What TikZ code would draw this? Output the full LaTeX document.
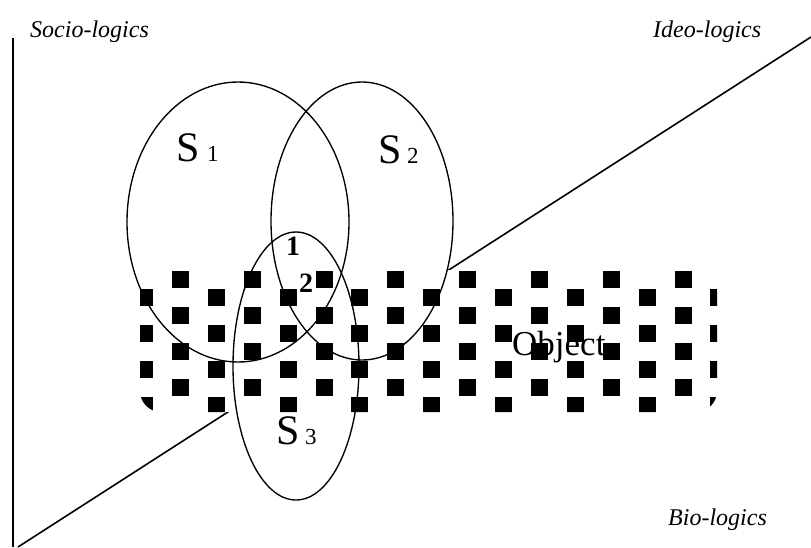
\documentclass[tikz,border=0pt]{standalone}
\usepackage{fontspec}
\setmainfont{Liberation Serif}
\begin{document}
\begin{tikzpicture}[x=1pt,y=-1pt,
  axisline/.style={line width=1.6pt,black},
  ringline/.style={line width=1.35pt,black},
  axislabel/.style={anchor=base west,inner sep=0pt,font=\fontsize{24}{28}\selectfont\itshape},
  setletter/.style={anchor=base west,inner sep=0pt,font=\fontsize{42}{46}\selectfont},
  setindex/.style={anchor=base west,inner sep=0pt,font=\fontsize{23}{26}\selectfont},
  zonenum/.style={anchor=base west,inner sep=0pt,font=\fontsize{28}{32}\selectfont\bfseries},
  objlabel/.style={anchor=base west,inner sep=0pt,font=\fontsize{35}{40}\selectfont}]
\fill[white] (0,0) rectangle (811,547);
\useasboundingbox (0,0) rectangle (811,547);
% axes
\coordinate (vtop) at (13,38);
\coordinate (vbot) at (13,547);
\coordinate (dlow) at (18,547);
\coordinate (dhigh) at (811,37);
\draw[axisline] (vtop) -- (vbot);
\draw[axisline] (dlow) -- (dhigh);
% ellipse centres
\coordinate (c1) at (238,222);
\coordinate (c2) at (362,221);
\coordinate (c3) at (296,366);
% white fills
\fill[white] (c1) ellipse [x radius=111pt, y radius=140pt];
\fill[white] (c2) ellipse [x radius=91pt, y radius=139pt];
\fill[white] (c3) ellipse [x radius=63pt, y radius=134pt];
% object pattern
\begin{scope}
  \clip[rounded corners=21pt] (140,270) rectangle (717,412);
  \fill[white] (140,270) rectangle (717,412);
  \foreach \r in {0,...,7}{
    \pgfmathsetmacro\yy{271+18.05*\r}
    \pgfmathsetmacro\xo{mod(\r,2)==0 ? 172 : 136}
    \foreach \k in {0,...,8}{
      \fill[black] (\xo+71.8*\k,\yy) rectangle ++(17,17);
    }
  }
\end{scope}
% ellipse outlines
\draw[ringline] (c1) ellipse [x radius=111pt, y radius=140pt];
\draw[ringline] (c2) ellipse [x radius=91pt, y radius=139pt];
\draw[ringline] (c3) ellipse [x radius=63pt, y radius=134pt];
% labels
\node[axislabel] (socio) at (30,37) {Socio-logics};
\node[axislabel] (ideo) at (653,37) {Ideo-logics};
\node[axislabel] (bio) at (668,525) {Bio-logics};
\node[setletter] (s1) at (176,161) {S};
\node[setindex] (s1i) at (207,161) {1};
\node[setletter] (s2) at (378,163) {S};
\node[setindex] (s2i) at (407,163) {2};
\node[setletter] (s3) at (276,444) {S};
\node[setindex] (s3i) at (305,444) {3};
\node[zonenum] (z1) at (286,255) {1};
\node[zonenum] (z2) at (299,292) {2};
\node[objlabel] (obj) at (512,355) {Object};
\end{tikzpicture}
\end{document}
